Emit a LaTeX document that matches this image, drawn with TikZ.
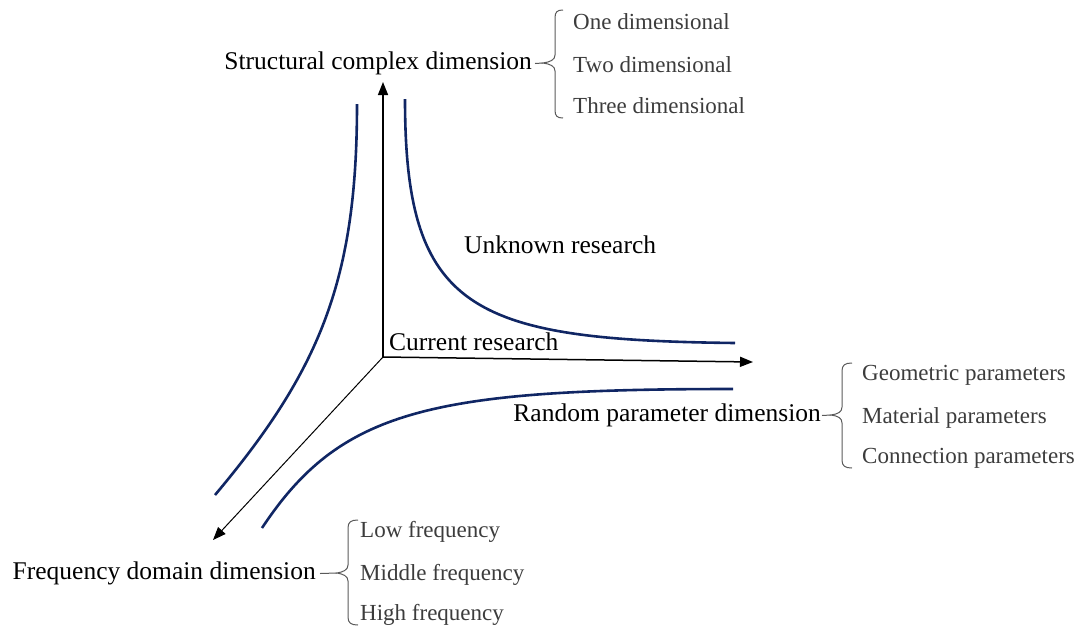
\documentclass[tikz,border=0pt]{standalone}
\usepackage{fontspec}
\setmainfont{Liberation Serif}
\usetikzlibrary{arrows.meta}
\definecolor{curveblue}{RGB}{16,38,100}
\definecolor{itemgray}{RGB}{60,60,60}
\definecolor{bracegray}{RGB}{90,90,90}
\begin{document}
\begin{tikzpicture}[x=1pt,y=-1pt,
  mainlbl/.style={font=\fontsize{25.5}{28}\selectfont, inner sep=0pt},
  itemlbl/.style={font=\fontsize{23}{26}\selectfont, text=itemgray, inner sep=0pt, anchor=west},
  axis/.style={line width=1.5pt, -{Triangle[length=13pt,width=10pt]}},
  diag/.style={line width=1pt, -{Triangle[length=13pt,width=10pt]}},
  hyper/.style={curveblue, line width=2.6pt},
  bracepath/.style={bracegray, line width=1pt}]
\useasboundingbox (0,0) rectangle (1081,627);

% axes
\coordinate (O) at (383,357);
\coordinate (Up) at (383,82);
\coordinate (Rt) at (753,362);
\coordinate (Dl) at (213,540);
\draw[axis] (O) -- (Up);
\draw[axis] (O) -- (Rt);
\draw[diag] (O) -- (Dl);

% hyperbola-like curves
\draw[hyper] (357,104) .. controls (357,280) and (320,370) .. (215,495);
\draw[hyper] (405,99) .. controls (405,310) and (470,340) .. (735,343);
\draw[hyper] (262,528) .. controls (340,410) and (430,389) .. (733,389);

% labels
\node[mainlbl, anchor=east] (s) at (532,63.5) {Structural complex dimension};
\node[mainlbl, anchor=east] (r) at (821,415.5) {Random parameter dimension};
\node[mainlbl, anchor=east] (f) at (316,573.5) {Frequency domain dimension};
\node[mainlbl, anchor=west] (u) at (464,244.5) {Unknown research};
\node[mainlbl, anchor=west] (c) at (389,341.5) {Current research};

% items
\node[itemlbl] (s1) at (573,21.5) {One dimensional};
\node[itemlbl] (s2) at (573,64.5) {Two dimensional};
\node[itemlbl] (s3) at (573,105.5) {Three dimensional};
\node[itemlbl] (r1) at (862,375.5) {Geometric parameters};
\node[itemlbl] (r2) at (862,417.5) {Material parameters};
\node[itemlbl] (r3) at (862,458.5) {Connection parameters};
\node[itemlbl] (f1) at (360,531.5) {Low frequency};
\node[itemlbl] (f2) at (360,574.5) {Middle frequency};
\node[itemlbl] (f3) at (360,614.5) {High frequency};

% braces
\coordinate (sb) at (543,63);
\draw[bracepath] (s.east) ++(3,0) -- (sb);
\draw[bracepath] (563,10) .. controls (557,10) and (555,12) .. (555,18) -- (555,55)
  .. controls (555,60) and (550,62) .. (sb) .. controls (550,64) and (555,66) .. (555,71)
  -- (555,110) .. controls (555,116) and (557,118) .. (563,118);

\coordinate (rb) at (831,415);
\draw[bracepath] (r.east) ++(1,0) -- (rb);
\draw[bracepath] (852,363) .. controls (845,363) and (842,365) .. (842,371) -- (842,407)
  .. controls (842,412) and (838,414) .. (rb) .. controls (838,416) and (842,418) .. (842,423)
  -- (842,460) .. controls (842,466) and (845,468) .. (852,468);

\coordinate (fb) at (337,573);
\draw[bracepath] (f.east) ++(4,0) -- (fb);
\draw[bracepath] (358,520) .. controls (351,520) and (348,522) .. (348,528) -- (348,565)
  .. controls (348,570) and (343,572) .. (fb) .. controls (343,574) and (348,576) .. (348,581)
  -- (348,617) .. controls (348,623) and (351,625) .. (358,625);
\end{tikzpicture}
\end{document}
